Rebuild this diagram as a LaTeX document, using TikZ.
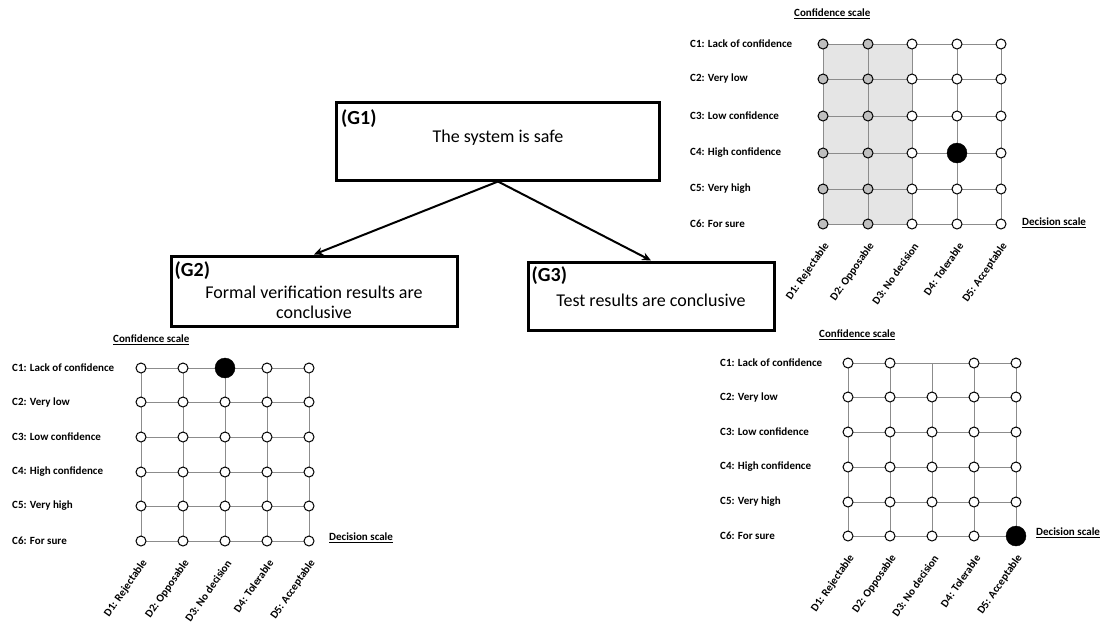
\documentclass[tikz,border=0pt]{standalone}
\usepackage{fontspec}
\setmainfont{Carlito}
\usetikzlibrary{arrows.meta}
\tikzset{
  goal/.style={draw, rectangle, line width=3pt, inner sep=0pt},
  gid/.style={font=\fontsize{20}{22}\selectfont\bfseries, inner sep=3pt, anchor=north west},
  gtxt/.style={font=\fontsize{18}{20}\selectfont, align=center},
  arr/.style={-{Stealth[length=9pt, width=8pt]}, line width=2pt},
  gline/.style={draw=black!45, line width=1pt},
  shade/.style={fill=black!10},
  dot/.style={draw, circle, fill=white, line width=1pt, minimum size=10pt, inner sep=0pt},
  gdot/.style={dot, fill=black!25},
  bdot/.style={draw, circle, fill=black, minimum size=20pt, inner sep=0pt},
  clab/.style={font=\fontsize{11}{13}\selectfont\bfseries, anchor=west, inner sep=0pt},
  dlab/.style={font=\fontsize{11}{13}\selectfont\bfseries, anchor=east, rotate=55, inner sep=0pt},
  stitle/.style={font=\fontsize{11}{13}\selectfont\bfseries, anchor=west, inner sep=0pt},
}

\begin{document}
\begin{tikzpicture}[x=1pt, y=-1pt]
\useasboundingbox (0,0) rectangle (1105,622);

% goal tree
\node[goal, minimum width=323pt, minimum height=78pt] (g1) at (498,141) {};
\node[gid] (g1id) at ([xshift=3pt,yshift=-6pt]g1.north west) {(G1)};
\node[gtxt] (g1txt) at (498,138) {The system is safe};

\node[goal, minimum width=286pt, minimum height=70pt] (g2) at (314,291) {};
\node[gid] (g2id) at ([xshift=2pt,yshift=-4pt]g2.north west) {(G2)};
\node[gtxt] (g2txt) at (314,302) {Formal verification results are\\conclusive};

\node[goal, minimum width=246pt, minimum height=68pt] (g3) at (651,296) {};
\node[gid] (g3id) at ([xshift=2pt,yshift=-3pt]g3.north west) {(G3)};
\node[gtxt] (g3txt) at (651,300) {Test results are conclusive};

\draw[arr] (g1.south) -- (g2.north);
\draw[arr] (g1.south) -- (g3.north);

% scale of G1 (top right)
\foreach \x [count=\i] in {823,868,912,957,1001}
  \foreach \y [count=\j] in {44,79,116,153,189,224}
    \coordinate (a-\i-\j) at (\x,\y);
\fill[shade] (a-1-1) rectangle (a-3-6);
\foreach \j in {1,...,6} \draw[gline] (a-1-\j) -- (a-5-\j);
\foreach \i in {1,...,5} \draw[gline] (a-\i-1) -- (a-\i-6);
\foreach \i/\s in {1/gdot,2/gdot,3/dot,4/dot,5/dot}
  \foreach \j in {1,...,6}
    \node[\s] (ad-\i-\j) at (a-\i-\j) {};
\node[bdot] (ab) at (a-4-4) {};
\foreach \t [count=\j] in {C1: Lack of confidence,C2: Very low,C3: Low confidence,C4: High confidence,C5: Very high,C6: For sure}
  \node[clab] (ar-\j) at ([xshift=-133pt]a-1-\j) {\t};
\foreach \t [count=\i] in {D1: Rejectable,D2: Opposable,D3: No decision,D4: Tolerable,D5: Acceptable}
  \node[dlab] (ac-\i) at ([xshift=4pt,yshift=-20pt]a-\i-6) {\t};
\node[stitle] (at) at ([xshift=-29pt,yshift=30pt]a-1-1) {\underline{Confidence scale}};
\node[stitle] (as) at ([xshift=21pt,yshift=1pt]a-5-6) {\underline{Decision scale}};

% scale of G2 (bottom left)
\foreach \x [count=\i] in {141,183,225,267,309}
  \foreach \y [count=\j] in {368,402,437,472,506,541}
    \coordinate (b-\i-\j) at (\x,\y);
\foreach \j in {1,...,6} \draw[gline] (b-1-\j) -- (b-5-\j);
\foreach \i in {1,...,5} \draw[gline] (b-\i-1) -- (b-\i-6);
\foreach \i in {1,...,5}
  \foreach \j in {1,...,6}
    \node[dot] (bd-\i-\j) at (b-\i-\j) {};
\node[bdot] (bb) at (b-3-1) {};
\foreach \t [count=\j] in {C1: Lack of confidence,C2: Very low,C3: Low confidence,C4: High confidence,C5: Very high,C6: For sure}
  \node[clab] (br-\j) at ([xshift=-129pt]b-1-\j) {\t};
\foreach \t [count=\i] in {D1: Rejectable,D2: Opposable,D3: No decision,D4: Tolerable,D5: Acceptable}
  \node[dlab] (bc-\i) at ([xshift=4pt,yshift=-20pt]b-\i-6) {\t};
\node[stitle] (bt) at ([xshift=-28pt,yshift=28pt]b-1-1) {\underline{Confidence scale}};
\node[stitle] (bs) at ([xshift=20pt,yshift=3pt]b-5-6) {\underline{Decision scale}};

% scale of G3 (bottom right)
\foreach \x [count=\i] in {848,890,932,974,1016}
  \foreach \y [count=\j] in {363,397,432,467,502,536}
    \coordinate (c-\i-\j) at (\x,\y);
\foreach \j in {1,...,6} \draw[gline] (c-1-\j) -- (c-5-\j);
\foreach \i in {1,...,5} \draw[gline] (c-\i-1) -- (c-\i-6);
\foreach \i in {1,...,5}
  \foreach \j in {1,...,6}
    {\ifnum\i\j=31 \else \node[dot] (cd-\i-\j) at (c-\i-\j) {};\fi}
\node[bdot] (cb) at (c-5-6) {};
\foreach \t [count=\j] in {C1: Lack of confidence,C2: Very low,C3: Low confidence,C4: High confidence,C5: Very high,C6: For sure}
  \node[clab] (cr-\j) at ([xshift=-128pt]c-1-\j) {\t};
\foreach \t [count=\i] in {D1: Rejectable,D2: Opposable,D3: No decision,D4: Tolerable,D5: Acceptable}
  \node[dlab] (cc-\i) at ([xshift=4pt,yshift=-20pt]c-\i-6) {\t};
\node[stitle] (ct) at ([xshift=-29pt,yshift=28pt]c-1-1) {\underline{Confidence scale}};
\node[stitle] (cs) at ([xshift=20pt,yshift=3pt]c-5-6) {\underline{Decision scale}};

\end{tikzpicture}
\end{document}
